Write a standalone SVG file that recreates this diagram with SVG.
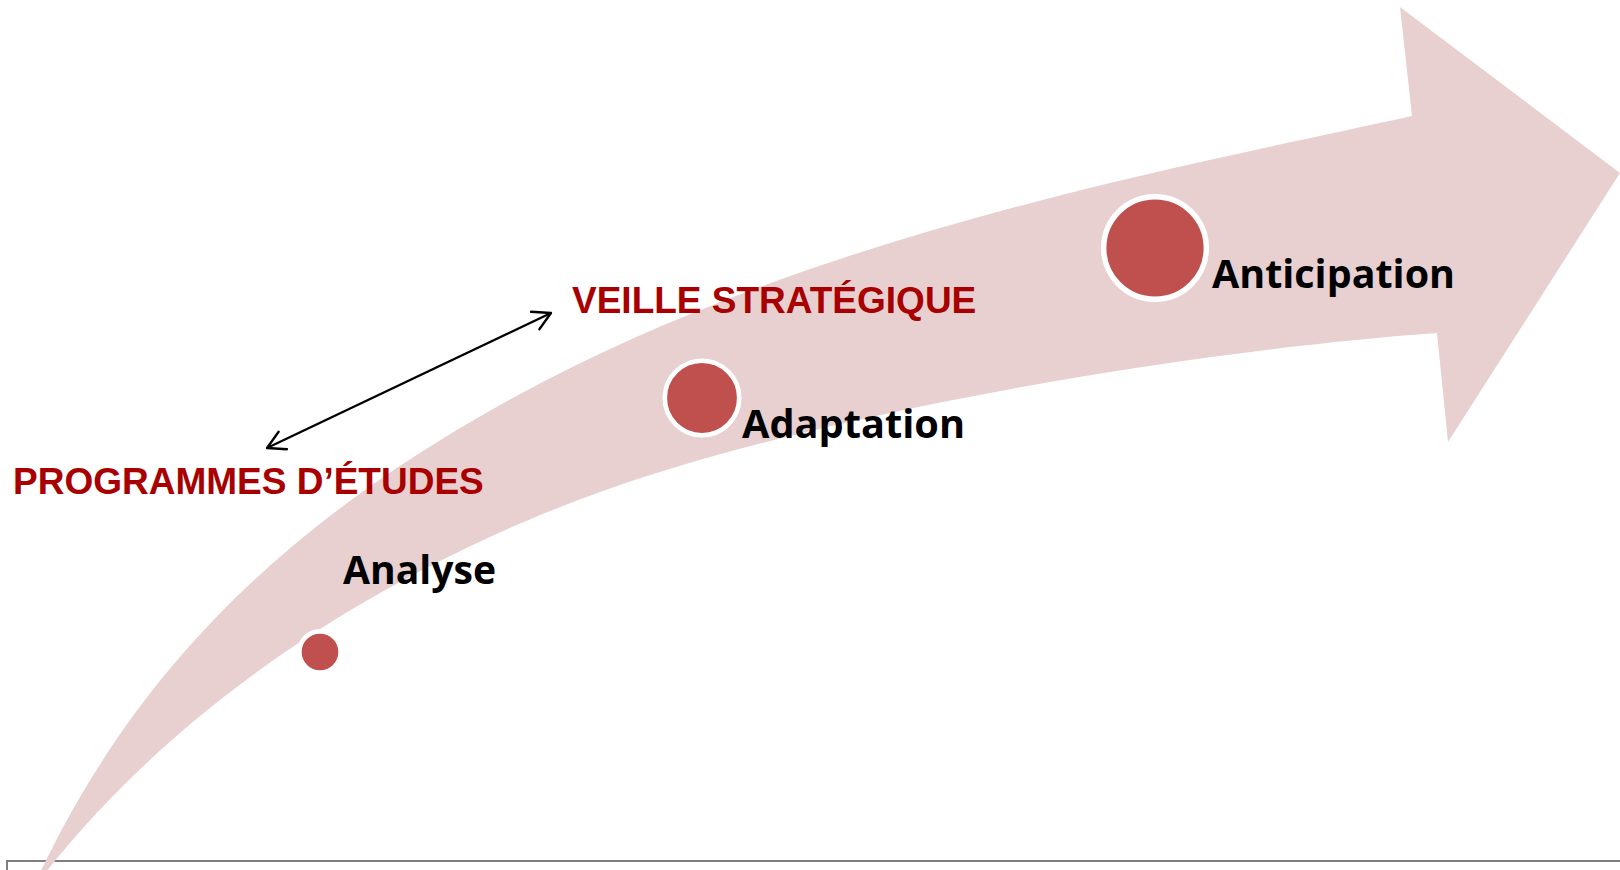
<svg xmlns="http://www.w3.org/2000/svg" width="1620" height="870" viewBox="0 0 1620 870">
<style>
.red{font-family:"Liberation Sans",Arial,sans-serif;font-weight:bold;font-size:37px;fill:#A80000}
.lbl{font-family:"Open Sans","Noto Sans",sans-serif;font-weight:bold;font-size:40px;fill:#000}
.dot{fill:#C0504D;stroke:#FFFFFF}
</style>
<defs>
<marker id="head" markerUnits="userSpaceOnUse" viewBox="-25 -15 30 30" markerWidth="30" markerHeight="30" refX="0" refY="0" orient="auto-start-reverse">
<path d="M -17.5 -9.7 L 0 0 L -17.5 9.7" fill="none" stroke="#000" stroke-width="2.3" stroke-linecap="round" stroke-linejoin="round"/>
</marker>
</defs>
<rect x="7" y="861" width="1700" height="100" fill="none" stroke="#7F7F7F" stroke-width="2"/>
<g id="big-arrow">
<path fill="#E8D0D1" d="M 32 890 C 137 659, 300 517, 500 405 C 800 237, 1162 171, 1412 116 L 1400 7 L 1620 173 L 1448 442 L 1437 333 C 1187 351, 820 413, 600 492 C 450 546, 202 665, 32 890 Z"/>
</g>
<g id="connectors">
<line x1="267" y1="448" x2="551" y2="313" stroke="#000" stroke-width="2.3" marker-start="url(#head)" marker-end="url(#head)"/>
</g>
<g id="programmes">
<text class="red" x="13" y="494">PROGRAMMES D’ÉTUDES</text>
</g>
<g id="veille">
<text class="red" x="572" y="313">VEILLE STRATÉGIQUE</text>
</g>
<g id="analyse">
<circle class="dot" cx="320" cy="652" r="20.6" stroke-width="4.6"/>
<text class="lbl" x="343" y="584" textLength="153" lengthAdjust="spacingAndGlyphs">Analyse</text>
</g>
<g id="adaptation">
<circle class="dot" cx="702" cy="398" r="37.2" stroke-width="4.6"/>
<text class="lbl" x="742" y="438" textLength="223" lengthAdjust="spacingAndGlyphs">Adaptation</text>
</g>
<g id="anticipation">
<circle class="dot" cx="1155" cy="248" r="51.3" stroke-width="5.4"/>
<text class="lbl" x="1212" y="288" textLength="243" lengthAdjust="spacingAndGlyphs">Anticipation</text>
</g>
</svg>
